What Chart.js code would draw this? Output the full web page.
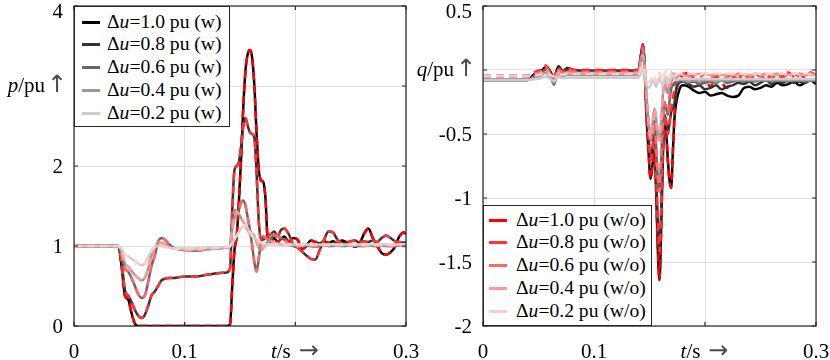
<!DOCTYPE html>
<html lang="en">
<head>
<meta charset="utf-8">
<title>p and q response</title>
<script src="https://cdn.jsdelivr.net/npm/chart.js@4.4.1/dist/chart.umd.min.js"></script>
<style>
html, body { margin: 0; padding: 0; background: #fff; }
#wrap { position: relative; width: 830px; height: 360px; overflow: hidden; }
#wrap canvas { position: absolute; top: 0; }
#pCanvas { left: 0; }
#qCanvas { left: 400px; }
.legend { position: absolute; box-sizing: border-box; background: #fff; border: 1px solid #262626;
  font: 19.6px "Liberation Serif", "Times New Roman", serif; color: #000; }
.legend .row { position: relative; height: 22.8px; }
.legend .sw { position: absolute; top: 10px; width: 18px; height: 3px; }
.legend .txt { position: absolute; top: 0; line-height: 22.8px; white-space: nowrap; }
#pLegend { left: 74px; top: 6px; width: 156px; height: 121px; padding-top: 3.6px; }
#pLegend .sw { left: 7px; }
#pLegend .txt { left: 32px; }
#qLegend { left: 483px; top: 205px; width: 169px; height: 121px; padding-top: 2.6px; }
#qLegend .sw { left: 5px; }
#qLegend .txt { left: 32px; }
</style>
</head>
<body>
<div id="wrap">
  <canvas id="pCanvas" width="430" height="360"></canvas>
  <canvas id="qCanvas" width="430" height="360"></canvas>
  <div class="legend" id="pLegend"></div>
  <div class="legend" id="qLegend"></div>
</div>
<script>
// ---- data ----
const DU_LABELS = ['1.0', '0.8', '0.6', '0.4', '0.2'];
const GRAYS = ['#000000', '#333333', '#666666', '#999999', '#cccccc'];
const REDS = ['#ff0000', '#ff3333', '#ff6666', '#ff9999', '#ffcccc'];

const T_TICKS = [0, 0.1, 0.2, 0.3];
const P_TICKS = [0, 1, 2, 3, 4];
const Q_TICKS = [-2, -1.5, -1, -0.5, 0, 0.5];

// active power, time in s
const T_P = [0, 0.040, 0.043, 0.046, 0.049, 0.052, 0.055, 0.058, 0.061, 0.064, 0.067, 0.070, 0.073, 0.076,
  0.079, 0.082, 0.086, 0.090, 0.095, 0.100, 0.110, 0.120, 0.130, 0.138,
  0.141, 0.143, 0.145, 0.147, 0.149, 0.151, 0.153, 0.155, 0.157, 0.159, 0.161, 0.163, 0.165, 0.167,
  0.169, 0.171, 0.173, 0.175,
  0.178, 0.181, 0.184, 0.187, 0.190, 0.194, 0.198, 0.202, 0.206, 0.210, 0.214, 0.218, 0.222, 0.226,
  0.230, 0.234, 0.238, 0.242, 0.246, 0.250, 0.254, 0.258, 0.262, 0.266, 0.270, 0.274, 0.278, 0.282,
  0.286, 0.290, 0.294, 0.298, 0.300];

const P_10 = [1, 1, 0.75, 0.38, 0.33, 0.16, 0.03, 0, 0, 0, 0, 0, 0, 0, 0, 0, 0, 0, 0, 0, 0, 0, 0, 0,
  0.02, 0.5, 0.95, 1.12, 1.55, 2.1, 2.75, 3.2, 3.4, 3.45, 3.35, 3.0, 2.4, 1.95, 1.82, 1.8, 1.6, 1.1,
  1.05, 1.1, 1.05, 1.09, 1.12, 1.05, 1.1, 1.08, 0.96, 1.0, 1.07, 1.05, 1.03, 1.06, 1.04, 1.06, 1.03,
  1.07, 1.05, 1.02, 0.99, 1.03, 1.15, 1.22, 1.1, 1.0, 0.91, 0.89, 0.92, 0.99, 1.12, 1.17, 1.15];
const P_08 = [1, 1, 0.8, 0.45, 0.38, 0.3, 0.2, 0.13, 0.1, 0.14, 0.25, 0.38, 0.43, 0.5, 0.57, 0.59,
  0.6, 0.6, 0.61, 0.62, 0.62, 0.64, 0.66, 0.67,
  0.72, 1.45, 1.95, 2.0, 2.05, 2.25, 2.5, 2.6, 2.5, 2.42, 2.4, 2.35, 1.9, 1.3, 1.08, 1.08, 1.1, 1.12,
  1.15, 1.18, 1.12, 1.2, 1.22, 1.15, 1.02, 0.98, 0.93, 0.88, 0.84, 0.83, 0.95, 1.08, 1.18, 1.17, 1.08,
  1.03, 1.04, 1.06, 1.07, 1.04, 1.06, 1.05, 1.07, 1.05, 1.1, 1.13, 1.1, 1.06, 1.05, 1.04, 1.05];
const P_06 = [1, 1, 0.88, 0.72, 0.68, 0.6, 0.5, 0.4, 0.35, 0.38, 0.55, 0.75, 0.88, 1.05, 1.1, 1.08,
  1.02, 0.98, 0.96, 0.95, 0.94, 0.96, 0.97, 0.98,
  1.0, 1.3, 1.45, 1.42, 1.45, 1.55, 1.57, 1.5, 1.35, 1.2, 1.0, 0.8, 0.68, 0.85, 1.05, 1.12, 1.1, 1.08,
  1.1, 1.13, 1.12, 1.1, 1.08, 1.03, 1.0, 0.99, 1.0, 1.01, 1.0, 0.99, 1.0, 1.01, 1.0, 1.0, 1.01,
  1.0, 1.0, 1.01, 1.0, 1.0, 1.0, 1.01, 1.0, 1.0, 1.01, 1.0, 1.0, 1.0, 1.01, 1.0, 1.0];
const P_04 = [1, 1, 0.92, 0.78, 0.74, 0.69, 0.64, 0.6, 0.57, 0.6, 0.72, 0.88, 0.98, 1.03, 1.04, 1.02,
  0.99, 0.97, 0.96, 0.95, 0.95, 0.96, 0.97, 0.98,
  1.0, 1.2, 1.35, 1.43, 1.4, 1.35, 1.3, 1.25, 1.2, 1.15, 1.15, 1.12, 1.05, 0.98, 0.95, 0.97, 1.02, 1.05,
  1.06, 1.04, 1.03, 1.02, 1.02, 1.01, 1.01, 1.01, 1.01, 1.01, 1.01, 1.01, 1.01, 1.01, 1.01, 1.01, 1.01,
  1.01, 1.01, 1.01, 1.01, 1.01, 1.01, 1.01, 1.01, 1.01, 1.01, 1.01, 1.01, 1.01, 1.01, 1.01, 1.01];
const P_02 = [1, 1, 0.96, 0.89, 0.87, 0.84, 0.81, 0.78, 0.76, 0.78, 0.86, 0.94, 0.99, 1.0, 1.0, 0.99,
  0.98, 0.97, 0.97, 0.97, 0.97, 0.98, 0.98, 0.99,
  1.0, 1.04, 1.08, 1.13, 1.18, 1.22, 1.25, 1.26, 1.22, 1.17, 1.13, 1.1, 1.08, 1.06, 1.04, 1.03, 1.02, 1.02,
  1.02, 1.02, 1.02, 1.02, 1.02, 1.02, 1.02, 1.02, 1.02, 1.02, 1.02, 1.02, 1.02, 1.02, 1.02, 1.02, 1.02,
  1.02, 1.02, 1.02, 1.02, 1.02, 1.02, 1.02, 1.02, 1.02, 1.02, 1.02, 1.02, 1.02, 1.02, 1.02, 1.02];

// reactive power, time in s
const T_Q = [0, 0.040, 0.044, 0.048, 0.052, 0.056, 0.060, 0.064, 0.068, 0.072, 0.076, 0.080, 0.090,
  0.110, 0.130, 0.140,
  0.142, 0.144, 0.1455, 0.147, 0.149, 0.151, 0.153, 0.1545, 0.156, 0.1575, 0.159, 0.1605, 0.162,
  0.1635, 0.165, 0.1665, 0.168, 0.1695, 0.171, 0.1725, 0.174,
  0.177, 0.180, 0.185, 0.190, 0.195, 0.200, 0.205, 0.210, 0.215, 0.220, 0.225, 0.230, 0.235, 0.240,
  0.245, 0.250, 0.255, 0.260, 0.265, 0.270, 0.275, 0.280, 0.285, 0.290, 0.295, 0.300];

const Q_10_W = [-0.078, -0.078, -0.05, -0.02, -0.01, 0.02, 0.0, -0.06, 0.03, -0.01, 0.015, 0.0, -0.005,
  -0.005, -0.005, -0.005,
  0.1, 0.2, 0.05, -0.3, -0.62, -0.85, -0.72, -0.62, -0.95, -1.4, -1.64, -1.25, -0.7, -0.4, -0.48,
  -0.7, -0.86, -0.92, -0.65, -0.38, -0.26,
  -0.15, -0.12, -0.13, -0.16, -0.18, -0.17, -0.2, -0.19, -0.18, -0.2, -0.21, -0.2, -0.14, -0.13,
  -0.15, -0.14, -0.12, -0.13, -0.1, -0.12, -0.11, -0.09, -0.12, -0.1, -0.08, -0.11];
const Q_10_WO = [-0.047, -0.047, -0.03, -0.01, 0.0, 0.035, 0.0, -0.05, 0.02, -0.01, 0.02, 0.005, 0.0,
  0.0, 0.0, 0.0,
  0.1, 0.2, 0.05, -0.3, -0.62, -0.85, -0.72, -0.62, -0.95, -1.4, -1.64, -1.25, -0.7, -0.4, -0.48,
  -0.7, -0.86, -0.92, -0.65, -0.35, -0.18,
  -0.08, -0.04, -0.02, -0.07, -0.12, -0.08, -0.13, -0.05, -0.1, -0.14, -0.06, -0.03, -0.1, -0.07,
  -0.05, -0.08, -0.04, -0.07, -0.03, -0.06, -0.02, -0.05, -0.03, -0.06, -0.02, -0.04];
const Q_08_W = [-0.078, -0.078, -0.055, -0.03, -0.015, 0.01, -0.01, -0.08, 0.02, -0.02, 0.01, -0.005,
  -0.01, -0.01, -0.01, -0.01,
  0.09, 0.19, 0.05, -0.25, -0.5, -0.7, -0.58, -0.5, -0.8, -1.2, -1.42, -1.1, -0.6, -0.35, -0.4,
  -0.5, -0.42, -0.33, -0.3, -0.26, -0.15,
  -0.1, -0.09, -0.11, -0.13, -0.12, -0.15, -0.14, -0.12, -0.15, -0.13, -0.12, -0.1, -0.11, -0.09,
  -0.12, -0.1, -0.08, -0.11, -0.09, -0.1, -0.08, -0.1, -0.09, -0.1, -0.08, -0.09];
const Q_08_WO = [-0.047, -0.047, -0.035, -0.015, -0.005, 0.03, -0.01, -0.06, 0.015, -0.015, 0.015, 0.0,
  -0.005, -0.005, -0.005, -0.005,
  0.09, 0.19, 0.05, -0.25, -0.5, -0.7, -0.58, -0.5, -0.8, -1.2, -1.42, -1.1, -0.6, -0.35, -0.4,
  -0.5, -0.42, -0.3, -0.22, -0.15, -0.08,
  -0.06, -0.03, -0.05, -0.09, -0.06, -0.1, -0.07, -0.04, -0.08, -0.06, -0.05, -0.07, -0.04, -0.06,
  -0.03, -0.05, -0.04, -0.06, -0.03, -0.05, -0.04, -0.03, -0.05, -0.04, -0.03, -0.05];
const Q_06_W = [-0.078, -0.078, -0.06, -0.04, -0.03, 0.0, -0.03, -0.115, 0.0, -0.03, -0.01, -0.02,
  -0.02, -0.02, -0.02, -0.02,
  0.07, 0.17, 0.04, -0.2, -0.4, -0.55, -0.45, -0.4, -0.6, -0.85, -0.95, -0.7, -0.4, -0.25, -0.3,
  -0.35, -0.25, -0.15, -0.12, -0.1, -0.1,
  -0.09, -0.08, -0.1, -0.09, -0.11, -0.1, -0.09, -0.1, -0.08, -0.1, -0.09, -0.08, -0.09, -0.08,
  -0.09, -0.08, -0.08, -0.09, -0.08, -0.08, -0.09, -0.08, -0.08, -0.09, -0.08, -0.08];
const Q_06_WO = [-0.047, -0.047, -0.04, -0.025, -0.015, 0.02, -0.02, -0.08, 0.0, -0.02, 0.0, -0.01,
  -0.015, -0.015, -0.015, -0.015,
  0.07, 0.17, 0.04, -0.2, -0.4, -0.55, -0.45, -0.4, -0.6, -0.85, -0.95, -0.7, -0.4, -0.25, -0.3,
  -0.33, -0.2, -0.1, -0.06, -0.05, -0.05,
  -0.04, -0.03, -0.05, -0.04, -0.06, -0.03, -0.05, -0.04, -0.03, -0.05, -0.04, -0.03, -0.04, -0.05,
  -0.03, -0.04, -0.03, -0.04, -0.03, -0.04, -0.03, -0.04, -0.03, -0.04, -0.03, -0.04];
const Q_04_W = [-0.078, -0.078, -0.07, -0.055, -0.045, -0.02, -0.05, -0.1, -0.03, -0.05, -0.035, -0.04,
  -0.04, -0.04, -0.04, -0.04,
  0.05, 0.12, 0.03, -0.15, -0.4, -0.53, -0.4, -0.3, -0.38, -0.5, -0.55, -0.4, -0.2, -0.1, -0.15,
  -0.18, -0.1, -0.05, -0.06, -0.06, -0.07,
  -0.07, -0.08, -0.09, -0.08, -0.09, -0.08, -0.08, -0.09, -0.08, -0.08, -0.08, -0.08, -0.08, -0.08,
  -0.08, -0.08, -0.08, -0.08, -0.08, -0.08, -0.08, -0.08, -0.08, -0.08, -0.08, -0.08];
const Q_04_WO = [-0.047, -0.047, -0.045, -0.035, -0.025, 0.0, -0.03, -0.07, -0.015, -0.03, -0.02, -0.025,
  -0.025, -0.025, -0.025, -0.025,
  0.05, 0.12, 0.03, -0.15, -0.4, -0.53, -0.4, -0.3, -0.38, -0.5, -0.55, -0.4, -0.2, -0.08, -0.12,
  -0.15, -0.07, -0.02, -0.03, -0.03, -0.04,
  -0.03, -0.04, -0.05, -0.04, -0.03, -0.04, -0.04, -0.03, -0.04, -0.04, -0.04, -0.04, -0.04, -0.04,
  -0.04, -0.04, -0.04, -0.04, -0.04, -0.04, -0.04, -0.04, -0.04, -0.04, -0.04, -0.04];
const Q_02_W = [-0.078, -0.078, -0.075, -0.07, -0.065, -0.05, -0.065, -0.085, -0.055, -0.065, -0.06, -0.06,
  -0.06, -0.06, -0.06, -0.06,
  -0.03, 0.0, -0.03, -0.1, -0.14, -0.12, -0.08, -0.1, -0.13, -0.09, -0.06, -0.1, -0.12, -0.07, -0.05,
  -0.09, -0.1, -0.06, -0.05, -0.07, -0.08,
  -0.07, -0.07, -0.07, -0.07, -0.07, -0.07, -0.07, -0.07, -0.07, -0.07, -0.07, -0.07, -0.07, -0.07,
  -0.07, -0.07, -0.07, -0.07, -0.07, -0.07, -0.07, -0.07, -0.07, -0.07, -0.07, -0.07];
const Q_02_WO = [-0.047, -0.047, -0.045, -0.04, -0.035, -0.025, -0.035, -0.05, -0.03, -0.035, -0.03, -0.03,
  -0.03, -0.03, -0.03, -0.03,
  0.0, 0.03, 0.0, -0.06, -0.1, -0.08, -0.04, -0.06, -0.09, -0.05, -0.02, -0.06, -0.08, -0.03, -0.01,
  -0.05, -0.06, -0.02, -0.01, -0.03, -0.04,
  -0.03, -0.03, -0.03, -0.03, -0.03, -0.03, -0.03, -0.03, -0.03, -0.03, -0.03, -0.03, -0.03, -0.03,
  -0.03, -0.03, -0.03, -0.03, -0.03, -0.03, -0.03, -0.03, -0.03, -0.03, -0.03, -0.03];

// ---- helpers ----
const FONT = '"Liberation Serif", "Times New Roman", serif';
const ARROW_FONT = '24px "DejaVu Sans", sans-serif';

function buildSets(t, wSeries, woSeries) {
  const sets = [];
  DU_LABELS.forEach((du, i) => {
    sets.push({
      label: 'Δu=' + du + ' pu (w)',
      data: t.map((x, k) => ({ x, y: wSeries[i][k] })),
      borderColor: GRAYS[i],
    });
    sets.push({
      label: 'Δu=' + du + ' pu (w/o)',
      data: t.map((x, k) => ({ x, y: woSeries[i][k] })),
      borderColor: REDS[i],
      borderDash: [8, 5],
    });
  });
  // first in the list is drawn first (bottom)
  return sets.map((s, k) => ({
    ...s,
    order: sets.length - k,
    borderWidth: 2.5,
    pointRadius: 0,
    fill: false,
    cubicInterpolationMode: 'monotone',
  }));
}

// parts: [text, style, slotWidth, inkCentre]; style 'i' italic, 'a' arrow, '' upright
function richText(ctx, parts, x, y, align) {
  const fonts = parts.map(p => p[1] === 'a' ? ARROW_FONT : (p[1] === 'i' ? 'italic ' : '') + '21px ' + FONT);
  const widths = parts.map((p, i) => {
    ctx.font = fonts[i];
    return p[2] !== undefined ? p[2] : ctx.measureText(p[0]).width;
  });
  const total = widths.reduce((s, w) => s + w, 0);
  let cx = align === 'right' ? x - total : x - total / 2;
  parts.forEach((p, i) => {
    ctx.font = fonts[i];
    if (p[1] === 'a') {
      ctx.fillStyle = '#4a4a4a';
      ctx.textAlign = 'center';
      ctx.fillText(p[0], cx + p[3], y);
    } else {
      ctx.fillStyle = '#000';
      ctx.textAlign = 'left';
      ctx.fillText(p[0], cx, y);
    }
    cx += widths[i];
  });
  ctx.fillStyle = '#000';
}

// box, inward ticks and tick labels in the MATLAB manner
const matlabAxes = {
  id: 'matlabAxes',
  afterDraw(chart, args, opts) {
    const { ctx, chartArea: a } = chart;
    const xs = chart.scales.x;
    const ys = chart.scales.y;
    ctx.save();
    ctx.strokeStyle = '#262626';
    ctx.lineWidth = 1.2;
    ctx.strokeRect(a.left, a.top, a.right - a.left, a.bottom - a.top);
    ctx.beginPath();
    opts.xTicks.forEach(v => {
      const px = xs.getPixelForValue(v);
      ctx.moveTo(px, a.bottom); ctx.lineTo(px, a.bottom - 4);
      ctx.moveTo(px, a.top); ctx.lineTo(px, a.top + 4);
    });
    opts.yTicks.forEach(v => {
      const py = ys.getPixelForValue(v);
      ctx.moveTo(a.left, py); ctx.lineTo(a.left + 4, py);
      ctx.moveTo(a.right, py); ctx.lineTo(a.right - 4, py);
    });
    ctx.stroke();

    ctx.fillStyle = '#000';
    ctx.textBaseline = 'alphabetic';
    opts.yTicks.forEach(v => {
      const py = Math.max(ys.getPixelForValue(v), a.top + 4.5);
      if (v === opts.yTitle.at) {
        richText(ctx, opts.yTitle.parts, a.left - 12, py + 6, 'right');
      } else {
        ctx.font = '21px ' + FONT;
        ctx.textAlign = 'right';
        ctx.fillText(String(v), a.left - 11, py + 7);
      }
    });
    opts.xTicks.forEach(v => {
      const px = xs.getPixelForValue(v);
      if (v === opts.xTitle.at) {
        richText(ctx, opts.xTitle.parts, px, a.bottom + 32, 'center');
      } else {
        ctx.font = '21px ' + FONT;
        ctx.textAlign = 'center';
        ctx.fillText(String(v), px, a.bottom + 32);
      }
    });
    ctx.restore();
  },
};

function axis(min, max, ticksArr, isX, size) {
  return {
    type: 'linear',
    min,
    max,
    afterBuildTicks: s => { s.ticks = ticksArr.map(v => ({ value: v })); },
    afterFit: s => {
      if (isX) s.height = size; else s.width = size;
      s.paddingTop = 0; s.paddingBottom = 0; s.paddingLeft = 0; s.paddingRight = 0;
    },
    ticks: { display: false },
    grid: { color: '#dfdfdf', lineWidth: 1, drawTicks: false },
    border: { display: false },
  };
}

function makeChart(canvasId, sets, yMin, yMax, yTicks, yTitle, leftW, rightPad) {
  return new Chart(document.getElementById(canvasId), {
    type: 'line',
    data: { datasets: sets },
    options: {
      responsive: false,
      animation: false,
      events: [],
      layout: { padding: { left: 0, right: rightPad, top: 6, bottom: 0 } },
      plugins: {
        legend: { display: false },
        tooltip: { enabled: false },
        matlabAxes: {
          xTicks: T_TICKS,
          yTicks,
          yTitle,
          xTitle: { at: 0.2, parts: [['t', 'i'], ['/s', ''], ['\u2192', 'a', 29, 18]] },
        },
      },
      scales: {
        x: axis(0, 0.3, T_TICKS, true, 34),
        y: axis(yMin, yMax, yTicks, false, leftW),
      },
    },
    plugins: [matlabAxes],
  });
}

makeChart('pCanvas', buildSets(T_P, [P_10, P_08, P_06, P_04, P_02], [P_10, P_08, P_06, P_04, P_02]),
  0, 4, P_TICKS, { at: 3, parts: [['p', 'i'], ['/pu', ''], ['\u2191', 'a', 17, 12]] }, 74, 24);

makeChart('qCanvas', buildSets(T_Q, [Q_10_W, Q_08_W, Q_06_W, Q_04_W, Q_02_W],
  [Q_10_WO, Q_08_WO, Q_06_WO, Q_04_WO, Q_02_WO]),
  -2, 0.5, Q_TICKS, { at: 0, parts: [['q', 'i'], ['/pu', ''], ['\u2191', 'a', 17, 12]] }, 83, 14);

// legends
function legendRows(colors, suffix) {
  return DU_LABELS.map((du, i) =>
    '<div class="row"><span class="sw" style="background:' + colors[i] + '"></span>' +
    '<span class="txt">\u0394<i>u</i>=' + du + ' pu (' + suffix + ')</span></div>').join('');
}
document.getElementById('pLegend').innerHTML = legendRows(GRAYS, 'w');
document.getElementById('qLegend').innerHTML = legendRows(REDS, 'w/o');
</script>
</body>
</html>
